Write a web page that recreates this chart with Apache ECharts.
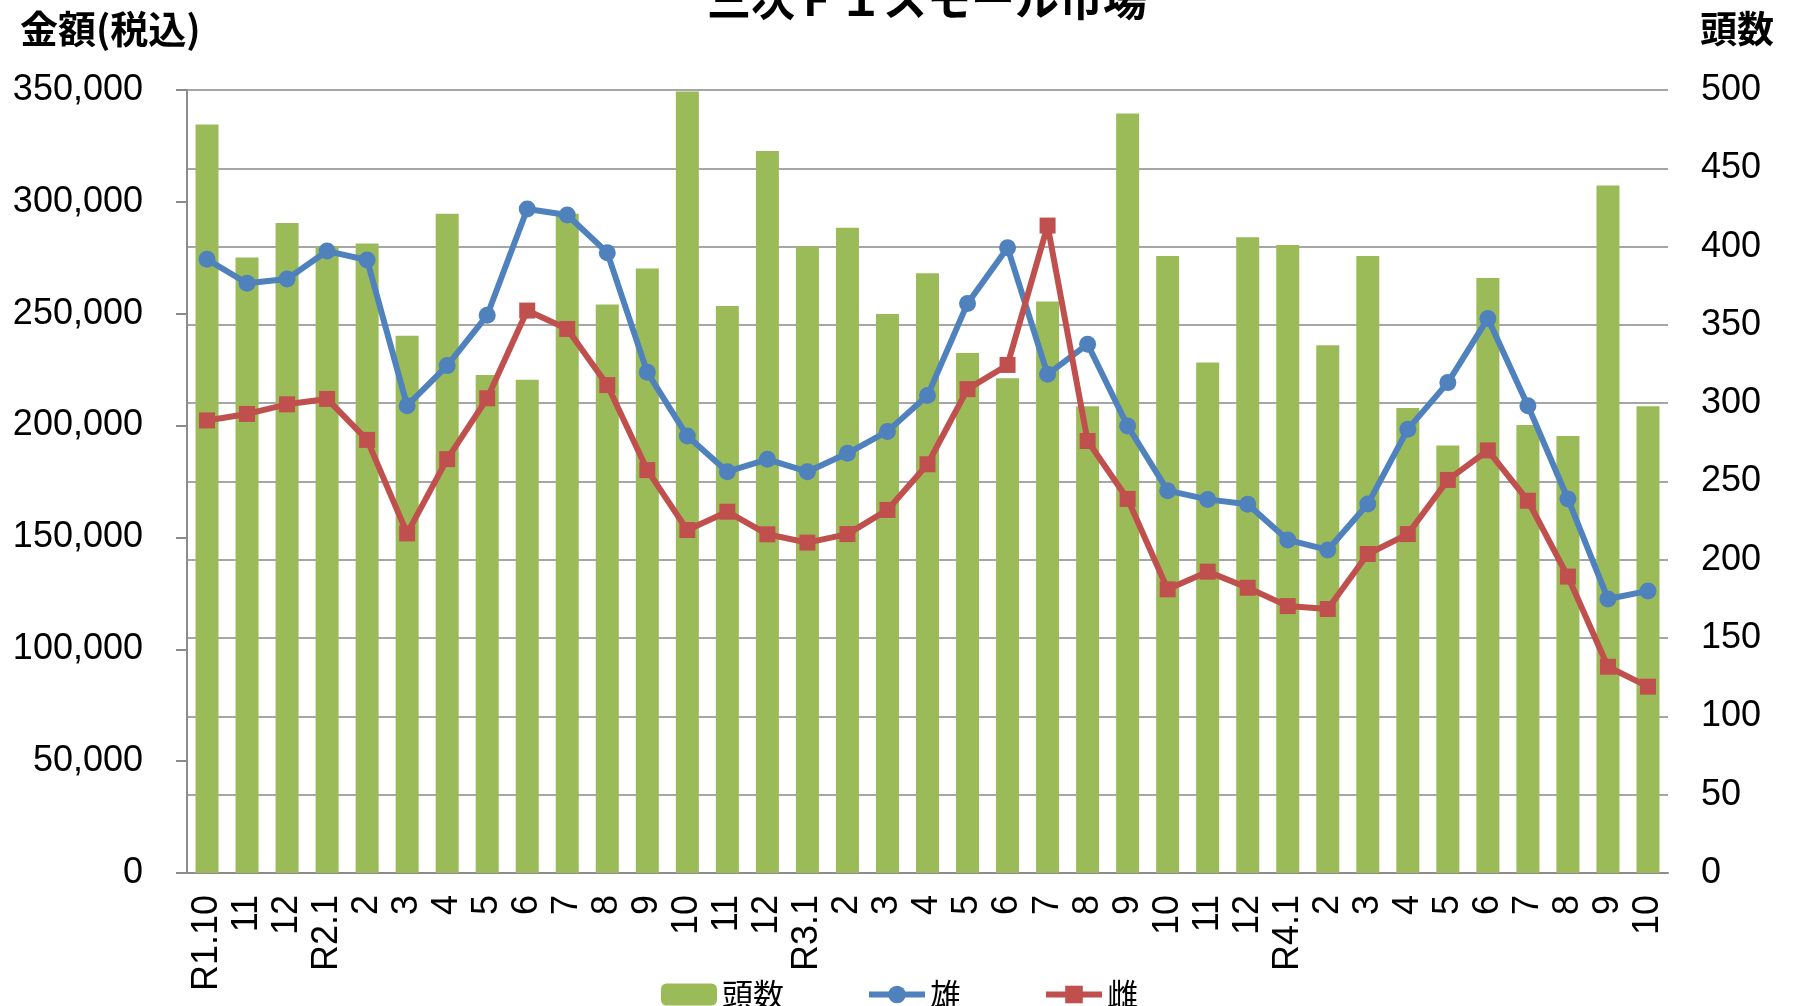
<!DOCTYPE html>
<html><head><meta charset="utf-8">
<script src="https://cdn.jsdelivr.net/npm/echarts@6/dist/echarts.min.js"></script>
<style>html,body{margin:0;padding:0;background:#fff}#c{width:1793px;height:1006px}</style>
</head><body><div id="c"></div>
<script>
const categories = ['R1.10','11','12','R2.1','2','3','4','5','6','7','8','9','10','11','12',
  'R3.1','2','3','4','5','6','7','8','9','10','11','12','R4.1','2','3','4','5','6','7','8','9','10'];
const headCount = [478,393,415,400,402,343,421,318,315,421,363,386,499,362,461,
  400,412,357,383,332,316,365,298,485,394,326,406,401,337,394,297,273,380,286,279,439,298];
const maleAvg = [274300,263600,265500,278000,274000,208900,226800,249300,296800,294100,277300,223800,195300,179400,184900,
  179400,187600,197400,213400,254600,279500,222900,236400,199800,170900,167000,164800,148900,144400,164900,198400,219200,247900,208900,167200,122500,126100];
const femaleAvg = [202300,205200,209500,211900,193600,151800,185000,212200,251400,243200,218100,180100,153300,161500,151400,
  147700,151500,162300,182700,216300,227100,289400,193100,167200,126800,134700,127500,119300,118000,142600,151500,175700,188900,166400,132500,92200,83300];
const seriesNames = ['頭数','雄','雌'];
const titleText = '三次Ｆ１スモール市場';
const leftAxisName = '金額(税込)';
const rightAxisName = '頭数';

const chart = echarts.init(document.getElementById('c'));
const numFont = 'Liberation Sans, Arial, sans-serif';
const cjkFont = 'Noto Sans CJK JP, sans-serif';
chart.setOption({
  animation: false,
  backgroundColor: '#ffffff',
  title: {
    text: titleText, left: 702, top: -28,
    textStyle: {fontSize: 44, fontWeight: 'bold', fontFamily: cjkFont, color: '#000'}
  },
  graphic: [
    {type: 'text', left: 20, top: 10, style: {text: leftAxisName, font: 'bold 38px "Noto Sans CJK JP"', fill: '#000'}},
    {type: 'text', left: 1700, top: 10, style: {text: rightAxisName, font: 'bold 37px "Noto Sans CJK JP"', fill: '#000'}}
  ],
  legend: {
    data: seriesNames, left: 661, top: 979, itemWidth: 56, itemHeight: 22, itemGap: 82, padding: 0,
    lineStyle: {width: 6},
    textStyle: {fontSize: 31, fontFamily: cjkFont, color: '#000'}
  },
  grid: {left: 187, right: 125, top: 90, bottom: 133, containLabel: false, outerBoundsMode: 'none'},
  xAxis: {
    type: 'category', data: categories, boundaryGap: true,
    axisLine: {lineStyle: {color: '#8C8C8C', width: 2}},
    axisTick: {show: false},
    axisLabel: {interval: 0, rotate: 90, margin: 22, fontSize: 36, fontFamily: numFont, color: '#000'}
  },
  yAxis: [
    {
      type: 'value', min: 0, max: 350000, interval: 50000, position: 'left',
      axisLine: {show: true, lineStyle: {color: '#8C8C8C', width: 2}},
      axisTick: {show: true, length: 11, lineStyle: {color: '#8C8C8C', width: 2}},
      splitLine: {show: false},
      axisLabel: {margin: 44, fontSize: 36, fontFamily: numFont, color: '#000',
        formatter: v => v.toLocaleString('en-US')}
    },
    {
      type: 'value', min: 0, max: 500, interval: 50, position: 'right',
      axisLine: {show: false}, axisTick: {show: false},
      splitLine: {show: true, lineStyle: {color: '#A6A6A6', width: 2}},
      axisLabel: {margin: 33, fontSize: 36, fontFamily: numFont, color: '#000'}
    }
  ],
  series: [
    {name: seriesNames[0], type: 'bar', yAxisIndex: 1, data: headCount, barWidth: 23,
      itemStyle: {color: '#9BBB59'}, z: 1},
    {name: seriesNames[1], type: 'line', yAxisIndex: 0, data: maleAvg, symbol: 'circle', symbolSize: 17,
      lineStyle: {width: 6, color: '#4F81BD'}, itemStyle: {color: '#4F81BD'}, z: 3},
    {name: seriesNames[2], type: 'line', yAxisIndex: 0, data: femaleAvg, symbol: 'rect', symbolSize: 16,
      lineStyle: {width: 6, color: '#C0504D'}, itemStyle: {color: '#C0504D'}, z: 4}
  ]
});
</script></body></html>
